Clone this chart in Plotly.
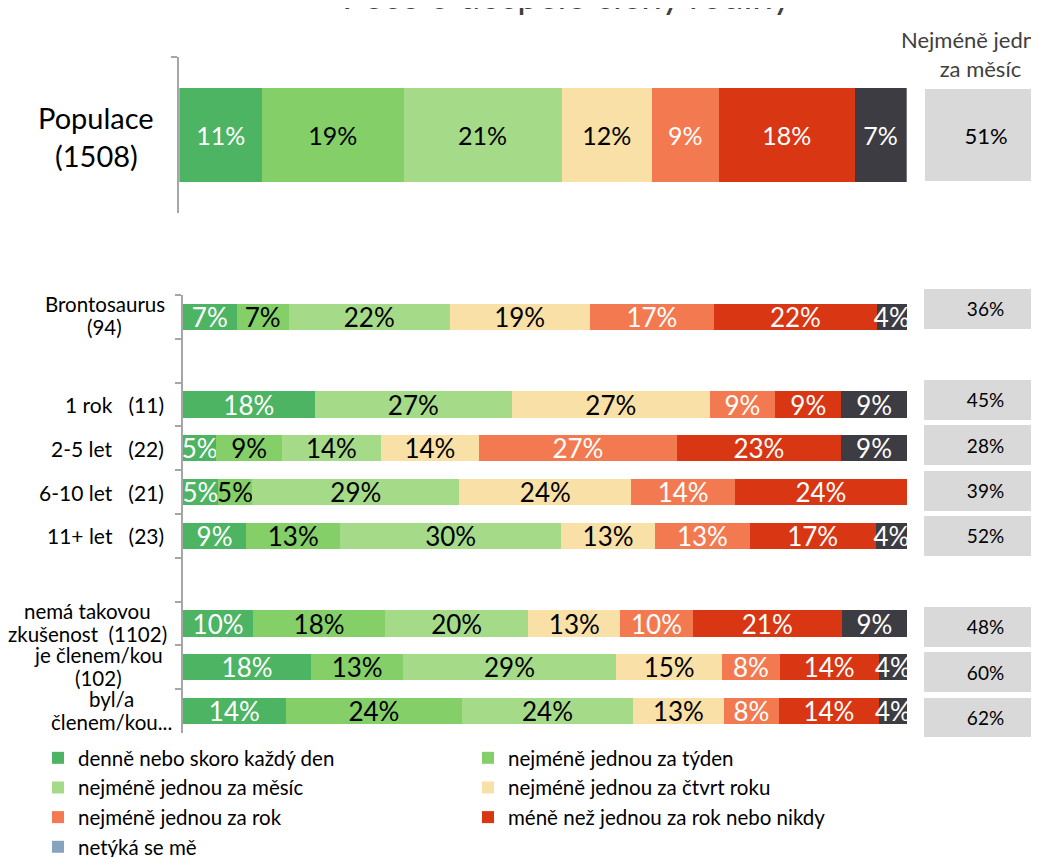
import plotly.graph_objects as go

W = 1039
FIG_H = 880      # a bit taller than the window so the legend never pushes the margins
PAGE_OFF = 8     # default body margin of the html page

# ---------------- data ----------------
series_names = [
    "denně nebo skoro každý den",
    "nejméně jednou za týden",
    "nejméně jednou za měsíc",
    "nejméně jednou za čtvrt roku",
    "nejméně jednou za rok",
    "méně než jednou za rok nebo nikdy",
    "nevím",
]
legend_extra = "netýká se mě"

series_colors = ["#4cb462", "#84cf68", "#a5da88", "#f8e0a6", "#f37a50", "#d93614", "#3c3c42"]
extra_color = "#87a4be"
text_colors = ["white", "black", "black", "black", "white", "white", "white"]

# Populace
pop_label_lines = ["Populace", "(1508)"]
pop_key = "Populace"
pop_values = [11.1, 19.0, 21.2, 12.1, 9.0, 18.2, 7.0]
pop_monthly = 51

# Groups
group_keys = ["Brontosaurus", "1 rok", "2-5 let", "6-10 let", "11+ let",
              "nemá", "je", "byl"]
group_label_lines = [
    ["Brontosaurus", "(94)"],
    ["1 rok\u00a0\u00a0\u00a0(11)"],
    ["2-5 let\u00a0\u00a0\u00a0(22)"],
    ["6-10 let\u00a0\u00a0\u00a0(21)"],
    ["11+ let\u00a0\u00a0\u00a0(23)"],
    ["nemá takovou", "zkušenost\u00a0\u00a0(1102)"],
    ["je členem/kou", "(102)"],
    ["byl/a", "členem/kou..."],
]
category_order = ["Brontosaurus", " ", "1 rok", "2-5 let", "6-10 let", "11+ let", "  ",
                  "nemá", "je", "byl"]

denne = [7.4, 18.2, 4.6, 4.8, 8.7, 9.7, 17.7, 14.2]
tyden = [7.2, 0.0, 9.1, 4.8, 13.0, 18.2, 12.7, 24.4]
mesic = [22.2, 27.3, 13.6, 28.6, 30.4, 19.8, 29.4, 23.6]
ctvrt = [19.3, 27.3, 13.6, 23.8, 13.0, 12.7, 14.7, 12.6]
rok = [17.2, 9.1, 27.3, 14.3, 13.0, 10.0, 7.9, 7.6]
mene = [22.4, 9.1, 22.7, 23.8, 17.4, 20.6, 13.7, 13.8]
nevim = [4.2, 9.1, 9.1, 0.0, 4.3, 9.0, 3.9, 3.9]
netyka = [0, 0, 0, 0, 0, 0, 0, 0]
group_series = [denne, tyden, mesic, ctvrt, rok, mene, nevim]

group_monthly = [36, 45, 28, 39, 52, 48, 60, 62]

title_text = "Péče o dospělé členy rodiny"
header_text = "Nejméně jednou<br>za měsíc"

# ---------------- helpers (page pixel -> paper) ----------------
FONT = "Lato, 'Open Sans', sans-serif"


def px_x(p):
    return (p - PAGE_OFF) / W


def px_y(p):
    return 1 - (p - PAGE_OFF) / FIG_H


def lbl(v):
    return f"{v:.0f}%" if v > 0 else ""


fig = go.Figure()

# Populace bar (top)
for i, name in enumerate(series_names):
    fig.add_trace(go.Bar(
        y=[pop_key], x=[pop_values[i]], orientation="h", name=name,
        marker=dict(color=series_colors[i], line=dict(width=0)),
        text=[lbl(pop_values[i])], texttemplate="%{text}",
        textposition="inside", insidetextanchor="middle", textangle=0,
        constraintext="none",
        insidetextfont=dict(color=text_colors[i], size=25, family=FONT),
        width=0.6, xaxis="x", yaxis="y", showlegend=False, legendgroup=name,
    ))

# Group bars
for i, name in enumerate(series_names):
    vals = group_series[i]
    fig.add_trace(go.Bar(
        y=group_keys, x=vals, orientation="h", name=name,
        marker=dict(color=series_colors[i], line=dict(width=0)),
        text=[lbl(v) for v in vals], texttemplate="%{text}",
        textposition="inside", insidetextanchor="middle", textangle=0,
        constraintext="none",
        insidetextfont=dict(color=text_colors[i], size=26, family=FONT),
        width=0.6, xaxis="x2", yaxis="y2",
        showlegend=(i < 6), legendgroup=name,
    ))
    if i == 5:
        fig.add_trace(go.Bar(
            y=group_keys, x=netyka, orientation="h", name=legend_extra,
            marker=dict(color=extra_color, line=dict(width=0)),
            textposition="none", width=0.6, xaxis="x2", yaxis="y2",
            showlegend=True,
        ))

# "Nejméně jednou za měsíc" boxes
fig.add_trace(go.Bar(
    y=[pop_key], x=[1], orientation="h",
    marker=dict(color="#d9d9d9", line=dict(width=0)),
    text=[f"{pop_monthly}%"], texttemplate="%{text}",
    textposition="inside", insidetextanchor="middle", textangle=0,
    insidetextfont=dict(color="black", size=22, family=FONT),
    width=0.59, xaxis="x4", yaxis="y", showlegend=False,
))
fig.add_trace(go.Bar(
    y=group_keys, x=[1] * len(group_keys), orientation="h",
    marker=dict(color="#d9d9d9", line=dict(width=0)),
    text=[f"{v}%" for v in group_monthly], texttemplate="%{text}",
    textposition="inside", insidetextanchor="middle", textangle=0,
    insidetextfont=dict(color="black", size=19, family=FONT),
    width=0.88, xaxis="x3", yaxis="y3", showlegend=False,
))

axis_line = dict(showline=True, linecolor="#a6a6a6", linewidth=2,
                 ticks="outside", tickson="boundaries", ticklen=6,
                 tickwidth=2, tickcolor="#a6a6a6", showticklabels=False,
                 showgrid=False, zeroline=False)

fig.update_layout(
    width=W, height=FIG_H,
    margin=dict(l=0, r=0, t=0, b=0),
    barmode="stack", barnorm="percent",
    paper_bgcolor="white", plot_bgcolor="white",
    font=dict(family=FONT, color="black"),
    xaxis=dict(domain=[px_x(179.3), px_x(906.7)], range=[0, 100], visible=False,
               anchor="y"),
    yaxis=dict(domain=[px_y(213), px_y(57)], type="category",
               range=[-0.5, 0.5], anchor="x", **axis_line),
    xaxis2=dict(domain=[px_x(183), px_x(907)], range=[0, 100], visible=False,
                anchor="y2"),
    yaxis2=dict(domain=[px_y(733), px_y(295)], type="category",
                categoryorder="array", categoryarray=category_order,
                range=[len(category_order) - 0.5, -0.5], anchor="x2", **axis_line),
    xaxis3=dict(domain=[px_x(924), 1], range=[0, 100], visible=False, anchor="y3"),
    yaxis3=dict(domain=[px_y(740.2), px_y(286.3)], type="category",
                categoryorder="array", categoryarray=category_order,
                range=[len(category_order) - 0.5, -0.5], visible=False,
                anchor="x3"),
    xaxis4=dict(domain=[px_x(925), 1], range=[0, 100], visible=False, anchor="y"),
    showlegend=True,
    legend=dict(orientation="h", x=px_x(38), y=px_y(738), xanchor="left",
                yanchor="top", traceorder="normal", itemwidth=30,
                entrywidth=385, entrywidthmode="pixels",
                font=dict(size=20.5, family=FONT, color="black"),
                bgcolor="rgba(0,0,0,0)", itemclick=False),
)

annotations = [
    dict(text=title_text, x=px_x(567), y=px_y(-6), xref="paper", yref="paper",
         xanchor="center", yanchor="middle", showarrow=False,
         font=dict(size=37, color="#404040", family=FONT)),
    dict(text=header_text, x=px_x(980), y=px_y(54), xref="paper", yref="paper",
         xanchor="center", yanchor="middle", showarrow=False, align="center",
         font=dict(size=22, color="#404040", family=FONT)),
]
# Populace label, line by line
for line, shift in zip(pop_label_lines, [17, -20]):
    annotations.append(dict(
        text=line, x=px_x(96), y=0, xref="paper", yref="y",
        xanchor="center", yanchor="middle", yshift=shift, showarrow=False,
        font=dict(size=29, color="black", family=FONT)))

# group labels; two-line labels are centred blocks whose right edge sits at the axis
block_centers = {"Brontosaurus": 104.5, "nemá": 87.5, "je": 98, "byl": 111}
for key, lines in zip(group_keys, group_label_lines):
    yi = category_order.index(key)
    if len(lines) == 1:
        annotations.append(dict(
            text=lines[0], x=px_x(166), y=yi, xref="paper", yref="y2",
            xanchor="right", yanchor="middle", showarrow=False,
            font=dict(size=21, color="black", family=FONT)))
    else:
        for line, shift in zip(lines, [12.5, -10.5]):
            annotations.append(dict(
                text=line, x=px_x(block_centers[key]), y=yi, xref="paper", yref="y2",
                xanchor="center", yanchor="middle", yshift=shift, showarrow=False,
                font=dict(size=20.5, color="black", family=FONT)))
fig.update_layout(annotations=annotations)

fig.write_html("out.html")
